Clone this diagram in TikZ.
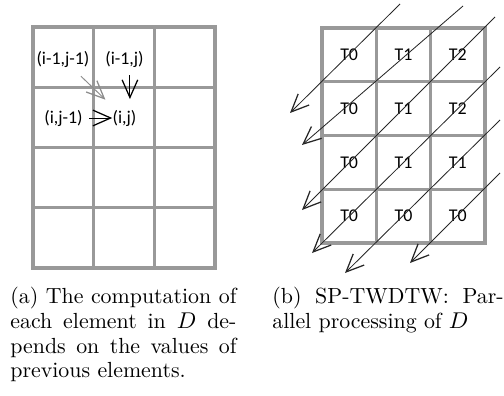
\documentclass[tikz,border=0pt]{standalone}
\usepackage{fontspec}
\newfontfamily\calibri{Carlito}
\usetikzlibrary{arrows.meta}
\tikzset{
  gridline/.style={draw=black!40, line width=1.6pt},
  idxlabel/.style={font=\calibri\fontsize{8.6}{10}\selectfont, inner sep=0pt},
  tlabel/.style={font=\calibri\fontsize{8.6}{10}\selectfont, inner sep=0pt},
  deparr/.style={-{Straight Barb[length=8.5pt,width=7.5pt,line width=0.6pt]}, line width=0.45pt},
  flowarr/.style={-{Straight Barb[length=8.5pt,width=7.5pt,line width=0.6pt]}, line width=0.4pt, draw=black!85},
  subcap/.style={text width=108.5pt, align=justify, inner sep=0pt, anchor=base west,
    font=\fontsize{10.5}{11.9}\selectfont},
}

\begin{document}
\begin{tikzpicture}[x=0.48pt, y=0.48pt]
  \useasboundingbox (0,0) rectangle (504,395);
  % (a) grid of D
  \begin{scope}[shift={(33,127)}, x=29.14pt, y=28.92pt]
    \draw[gridline] (0,0) rectangle (3,4) (1,0) -- (1,4) (2,0) -- (2,4)
      (0,1) -- (3,1) (0,2) -- (3,2) (0,3) -- (3,3);
  \end{scope}
  % (a) the element and its three predecessors
  \node[idxlabel] at (63,336)    (nw) {(i-1,j-1)};
  \node[idxlabel] at (124.5,336) (n)  {(i-1,j)};
  \node[idxlabel] at (63.5,277)  (w)  {(i,j-1)};
  \node[idxlabel] at (124.5,277) (ij) {(i,j)};
  \draw[deparr, draw=black!45, shorten <=6pt, shorten >=6.8pt] (nw) -- (ij);
  \draw[deparr, shorten <=3.6pt, shorten >=5pt]
    ([xshift=2.6pt]n.south) -- ([xshift=2.6pt]ij.north);
  \draw[deparr, shorten <=2.9pt] (w) -- (ij);

  % (b) grid of D with thread labels
  \begin{scope}[shift={(322,152)}, x=26.08pt, y=25.8pt]
    \draw[gridline] (0,0) rectangle (3,4) (1,0) -- (1,4) (2,0) -- (2,4)
      (0,1) -- (3,1) (0,2) -- (3,2) (0,3) -- (3,3);
    % Row 1
    \node[tlabel] at (0.5,3.5) (t11) {T0};
    \node[tlabel] at (1.5,3.5) (t12) {T1};
    \node[tlabel] at (2.5,3.5) (t13) {T2};
    % Row 2
    \node[tlabel] at (0.5,2.5) (t21) {T0};
    \node[tlabel] at (1.5,2.5) (t22) {T1};
    \node[tlabel] at (2.5,2.5) (t23) {T2};
    % Row 3
    \node[tlabel] at (0.5,1.5) (t31) {T0};
    \node[tlabel] at (1.5,1.5) (t32) {T1};
    \node[tlabel] at (2.5,1.5) (t33) {T1};
    % Row 4
    \node[tlabel] at (0.5,0.5) (t41) {T0};
    \node[tlabel] at (1.5,0.5) (t42) {T0};
    \node[tlabel] at (2.5,0.5) (t43) {T0};
  \end{scope}
  % (b) anti-diagonal sweeps
  \coordinate (s1) at (400,391); \coordinate (e1) at (290,282);
  \coordinate (s2) at (463,389); \coordinate (e2) at (302,250);
  \coordinate (s3) at (495,378); \coordinate (e3) at (302,185);
  \coordinate (s4) at (500,328); \coordinate (e4) at (312,142);
  \coordinate (s5) at (500,275); \coordinate (e5) at (345,122);
  \coordinate (s6) at (500,222); \coordinate (e6) at (410,132);
  \draw[flowarr] (s1) -- (e1);
  \draw[flowarr] (s2) -- (e2);
  \draw[flowarr] (s3) -- (e3);
  \draw[flowarr] (s4) -- (e4);
  \draw[flowarr] (s5) -- (e5);
  \draw[flowarr] (s6) -- (e6);

  % Captions
  \node[subcap] at (10,91.5) (capa)
    {(a) The computation of\linebreak each element in $D$ de-\linebreak pends on the values of\linebreak previous elements.};
  \node[subcap, text width=111pt] at (272,91.5) (capb)
    {(b) SP-TWDTW: Par-\linebreak allel processing of $D$};
\end{tikzpicture}
\end{document}
